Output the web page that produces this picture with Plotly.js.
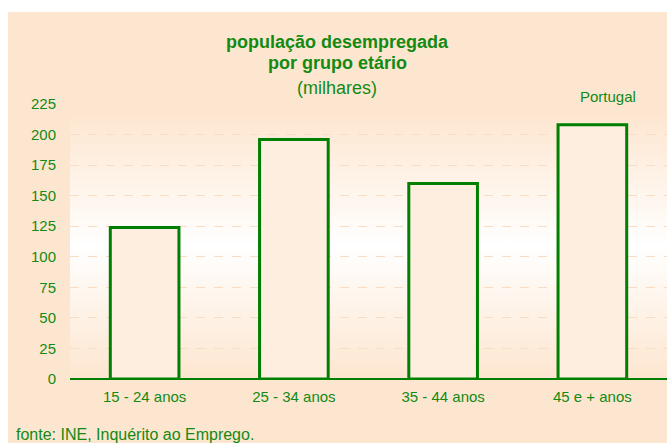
<!DOCTYPE html>
<html><head><meta charset="utf-8">
<script src="https://cdn.plot.ly/plotly-3.0.1.min.js"></script>
<style>
html,body{margin:0;padding:0;background:#ffffff;}
#chart{position:absolute;left:8px;top:12px;width:659px;height:431px;}
</style></head>
<body><div id="chart"></div>
<script>
const categories = ["15 - 24 anos", "25 - 34 anos", "35 - 44 anos", "45 e + anos"];
const values = [124, 196, 160, 208];
const yTicks = [0, 25, 50, 75, 100, 125, 150, 175, 200, 225];

const green = "#138a13";
const peach = "#fde6d0";
const svg = '<svg xmlns="http://www.w3.org/2000/svg" width="100" height="100" preserveAspectRatio="none"><defs><linearGradient id="g" x1="0" y1="0" x2="0" y2="1"><stop offset="0" stop-color="#fde6d0"/><stop offset="0.5" stop-color="#ffffff"/><stop offset="1" stop-color="#fde6d0"/></linearGradient></defs><rect width="100" height="100" fill="url(#g)"/></svg>';
const gradSrc = "data:image/svg+xml;charset=utf-8," + encodeURIComponent(svg);

const trace = {
  type: "bar",
  x: categories,
  y: values,
  marker: {color: "#fdeee0", line: {color: "#008000", width: 3}},
  hoverinfo: "skip"
};

const layout = {
  width: 659, height: 431,
  margin: {l: 62, r: 0, t: 92, b: 64},
  paper_bgcolor: peach,
  plot_bgcolor: "rgba(0,0,0,0)",
  font: {family: "Liberation Sans, Arial, sans-serif", color: green, size: 15},
  showlegend: false,
  bargap: 0.54,
  xaxis: {
    showgrid: false, zeroline: false,
    showline: false,
    ticks: "outside", ticklen: 4, tickcolor: "rgba(0,0,0,0)",
    tickfont: {size: 15, color: green}
  },
  yaxis: {
    range: [0, 225], tickvals: yTicks, ticktext: yTicks.map(String),
    showgrid: true, gridcolor: "#f9dcc2", griddash: "dash", gridwidth: 1,
    zeroline: true, zerolinecolor: "#008000", zerolinewidth: 1.5,
    ticks: "outside", ticklen: 10, tickcolor: "rgba(0,0,0,0)",
    tickfont: {size: 15, color: green}
  },
  images: [{
    source: gradSrc, xref: "paper", yref: "paper",
    x: 0, y: 0.967, sizex: 1, sizey: 0.967,
    xanchor: "left", yanchor: "top", sizing: "stretch", layer: "below"
  }],
  annotations: [
    {text: "<b>população desempregada</b>", xref: "paper", yref: "paper", x: 0.448, y: 1.2255, showarrow: false, xanchor: "center", yanchor: "middle", font: {size: 18, color: green}},
    {text: "<b>por grupo etário</b>", xref: "paper", yref: "paper", x: 0.448, y: 1.149, showarrow: false, xanchor: "center", yanchor: "middle", font: {size: 18, color: green}},
    {text: "(milhares)", xref: "paper", yref: "paper", x: 0.448, y: 1.058, showarrow: false, xanchor: "center", yanchor: "middle", font: {size: 18, color: green}},
    {text: "Portugal", xref: "paper", yref: "paper", x: 0.901, y: 1.029, showarrow: false, xanchor: "center", yanchor: "middle", font: {size: 15, color: green}},
    {text: "fonte: INE, Inquérito ao Emprego.", xref: "paper", yref: "paper", x: -0.0938, y: -0.2036, showarrow: false, xanchor: "left", yanchor: "middle", font: {size: 16, color: green}}
  ]
};

Plotly.newPlot("chart", [trace], layout, {displayModeBar: false, staticPlot: true});
</script></body></html>
